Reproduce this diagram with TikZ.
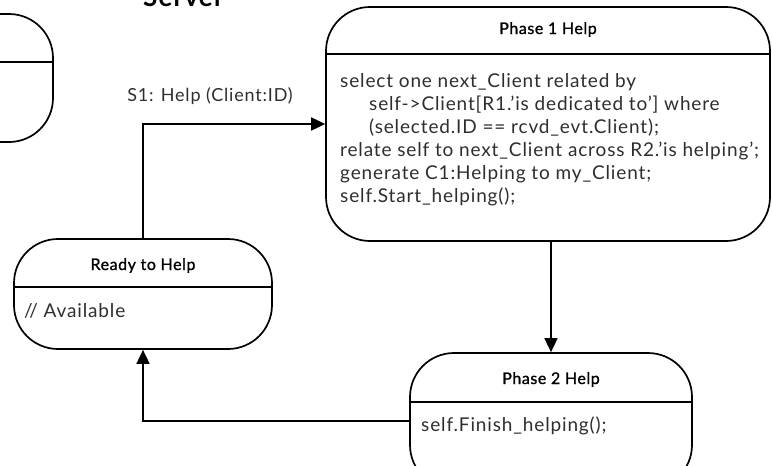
\documentclass[tikz,border=0pt]{standalone}
\usepackage{fontspec}
\setmainfont{Lato}[LetterSpace=4.5]
\newfontfamily\titlefont{Lato}[LetterSpace=3.5, FakeBold=1.2]
\usetikzlibrary{arrows.meta,calc}

\colorlet{bodyink}{black!82}

\tikzset{
  statebox/.style={draw, line width=1.7pt, rounded corners=44pt, inner sep=0pt},
  divider/.style={line width=1.7pt},
  flow/.style={line width=1.7pt, -{Triangle[length=14pt,width=13pt]}},
  titletext/.style={font=\titlefont\fontsize{16}{19}\selectfont, inner sep=0pt, anchor=base},
  bodytext/.style={font=\fontsize{19}{23}\selectfont, text=bodyink, inner sep=0pt, align=left},
}

\begin{document}
\begin{tikzpicture}[x=1pt,y=-1pt]
  \useasboundingbox (0,0) rectangle (772,466);
  \clip (0,0) rectangle (772,466);

  % heading of the enclosing class
  \node[anchor=base west, inner sep=0pt, font=\fontsize{26}{30}\selectfont\bfseries] (server) at (143,6) {Server};

  % partially visible state on the left
  \node[statebox, minimum width=253pt, minimum height=128pt] (left) at (-73.5,78) {};
  \draw[divider] (left.west |- 0,62) -- (left.east |- 0,62);

  % Phase 1 Help
  \node[statebox, minimum width=444pt, minimum height=234pt] (p1) at (548,124) {};
  \draw[divider] (p1.west |- 0,54) -- (p1.east |- 0,54);
  \node[titletext] (p1title) at (548,34) {Phase 1 Help};
  \node[bodytext, anchor=north west] (p1body) at (340,73) {%
    select one next\_Client related by\\
    \hspace*{29pt}self->Client[R1.’is dedicated to’] where\\
    \hspace*{29pt}(selected.ID == rcvd\_evt.Client);\\
    relate self to next\_Client across R2.’is helping’;\\
    generate C1:Helping to my\_Client;\\
    self.Start\_helping();};

  % Ready to Help
  \node[statebox, minimum width=258pt, minimum height=110pt] (ready) at (143,294) {};
  \draw[divider] (ready.west |- 0,287) -- (ready.east |- 0,287);
  \node[titletext] (readytitle) at (143,270) {Ready to Help};
  \node[bodytext, anchor=base west] (readybody) at (24,317) {// Available};

  % Phase 2 Help
  \node[statebox, minimum width=282pt, minimum height=136pt] (p2) at (551,421) {};
  \draw[divider] (p2.west |- 0,402) -- (p2.east |- 0,402);
  \node[titletext] (p2title) at (551,384) {Phase 2 Help};
  \node[bodytext, anchor=base west] (p2body) at (421,431) {self.Finish\_helping();};

  % transitions
  \draw[flow] (ready.north) |- (p1.west);
  \draw[flow] (p2.north |- p1.south) -- (p2.north);
  \draw[flow] (p2.west) -| (ready.south);

  % event label
  \node[font=\fontsize{18}{21}\selectfont, text=bodyink, inner sep=0pt, anchor=base] (evt) at (210,101) {S1: Help (Client:ID)};
\end{tikzpicture}
\end{document}
